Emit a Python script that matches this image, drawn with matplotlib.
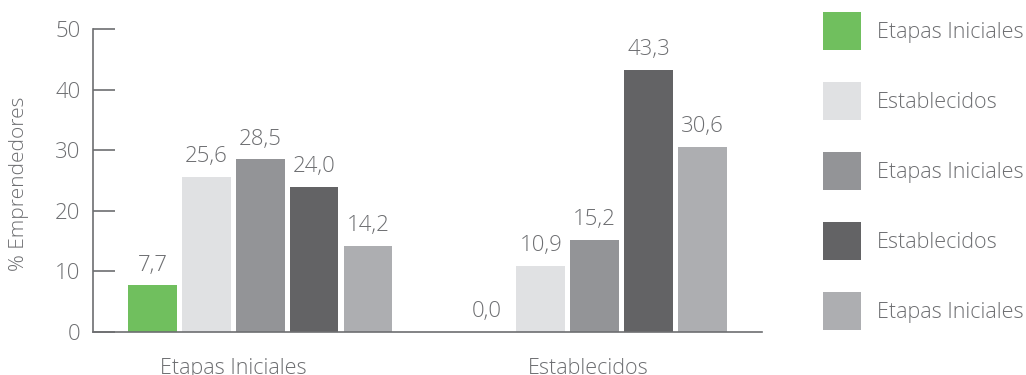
import matplotlib
matplotlib.use("Agg")
import matplotlib.pyplot as plt
import numpy as np
from matplotlib.patches import Patch

categories = ["Etapas Iniciales", "Establecidos"]
series_labels = ["Etapas Iniciales", "Establecidos", "Etapas Iniciales", "Establecidos", "Etapas Iniciales"]
values = [
    [7.7, 0.0],
    [25.6, 10.9],
    [28.5, 15.2],
    [24.0, 43.3],
    [14.2, 30.6],
]
colors = ["#70bf5e", "#e0e1e3", "#939497", "#636365", "#adaeb1"]
text_color = "#6d6e71"

plt.rcParams['font.family'] = ['Open Sans', 'DejaVu Sans']

fig = plt.figure(figsize=(10.26, 3.75), dpi=100)
ax = fig.add_axes([0.0906, 0.1147, 0.6521, 0.808])

x = np.arange(len(categories))
step = 0.161
width = 0.146
for i, (vals, c, lab) in enumerate(zip(values, colors, series_labels)):
    pos = x + (i - 2) * step
    ax.bar(pos, vals, width=width, color=c, label=lab)
    for xp, v in zip(pos, vals):
        ax.annotate(f"{v:.1f}".replace(".", ","), (xp, v), xytext=(0, 7),
                    textcoords="offset points", ha="center", va="bottom",
                    fontsize=16, color=text_color, fontweight="light")

ax.set_xlim(-0.5, 1.5)
ax.set_ylim(0, 50)
ax.set_yticks([0, 10, 20, 30, 40, 50])
ax.set_xticks([-0.08, 0.98])
ax.set_xticklabels(categories)
ax.tick_params(axis="x", length=0, pad=19, labelsize=15.5, labelcolor=text_color)
ax.tick_params(axis="y", direction="in", length=16, width=1.2, color=text_color,
               labelsize=16, labelcolor=text_color, pad=9)
for lbl in ax.get_xticklabels() + ax.get_yticklabels():
    lbl.set_fontweight("light")
ax.set_ylabel("% Emprendedores", fontsize=15, color=text_color, fontweight="light")
ax.yaxis.set_label_coords(-0.096, 0.49)
for s in ["top", "right"]:
    ax.spines[s].set_visible(False)
for s in ["left", "bottom"]:
    ax.spines[s].set_color(text_color)
    ax.spines[s].set_linewidth(1.2)

handles = [Patch(facecolor=c, edgecolor="none") for c in colors]
leg = fig.legend(handles, series_labels, loc="upper left", bbox_to_anchor=(0.802, 0.968),
                 frameon=False, fontsize=15.5, handlelength=1.77, handleheight=2.34,
                 labelspacing=1.49, handletextpad=0.74, borderaxespad=0, borderpad=0)
for t in leg.get_texts():
    t.set_color(text_color)
    t.set_fontweight("light")

fig.savefig("out.png", dpi=100)
